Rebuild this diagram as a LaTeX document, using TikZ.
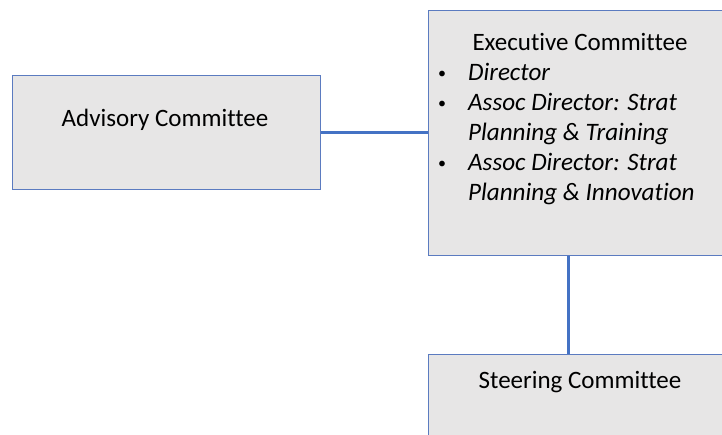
\documentclass[tikz,border=0pt]{standalone}
\usepackage{fontspec}
\setmainfont[Ligatures=NoCommon]{Carlito}
\definecolor{boxfill}{HTML}{E7E6E6}
\definecolor{boxline}{HTML}{5B7BC0}
\definecolor{linkblue}{HTML}{4472C4}
\begin{document}
\begin{tikzpicture}[x=1pt,y=-1pt,
  box/.style={draw=boxline, line width=1pt, fill=boxfill, inner sep=0pt},
  link/.style={draw=linkblue, line width=3pt},
  txt/.style={font=\fontsize{25}{30}\selectfont, inner sep=0pt},
  itxt/.style={txt, font=\fontsize{25.1}{30}\selectfont\itshape},
  bul/.style={font=\fontsize{16}{20}\selectfont, inner sep=0pt}]
\useasboundingbox (0,0) rectangle (722,434);
\clip (0,0) rectangle (722,434);
\node[box, minimum width=308pt, minimum height=114pt, anchor=north west] (adv) at (12,75) {};
\node[box, minimum width=304pt, minimum height=245pt, anchor=north west] (exec) at (428,10) {};
\node[box, minimum width=304pt, minimum height=120pt, anchor=north west] (steer) at (428,354) {};
\draw[link] (adv.east) -- (adv.east -| exec.west);
\draw[link] ([xshift=-12pt]exec.south) -- ([xshift=-12pt]exec.south |- steer.north);
\node[txt, anchor=base] (advt) at (165,126) {Advisory Committee};
\node[txt, anchor=base] (exect) at (580,50) {Executive Committee};
\node[bul, anchor=base] (b1) at (442,78) {•};
\node[itxt, anchor=base west] (l1) at (468,80) {Director};
\node[bul, anchor=base] (b2) at (442,108) {•};
\node[itxt, anchor=base west] (l2) at (468,110) {Assoc Director: Strat};
\node[itxt, anchor=base west] (l3) at (468,140) {Planning \& Training};
\node[bul, anchor=base] (b3) at (442,168) {•};
\node[itxt, anchor=base west] (l4) at (468,170) {Assoc Director: Strat};
\node[itxt, anchor=base west] (l5) at (468,200) {Planning \& Innovation};
\node[txt, anchor=base] (steert) at (580,388) {Steering Committee};
\end{tikzpicture}
\end{document}
